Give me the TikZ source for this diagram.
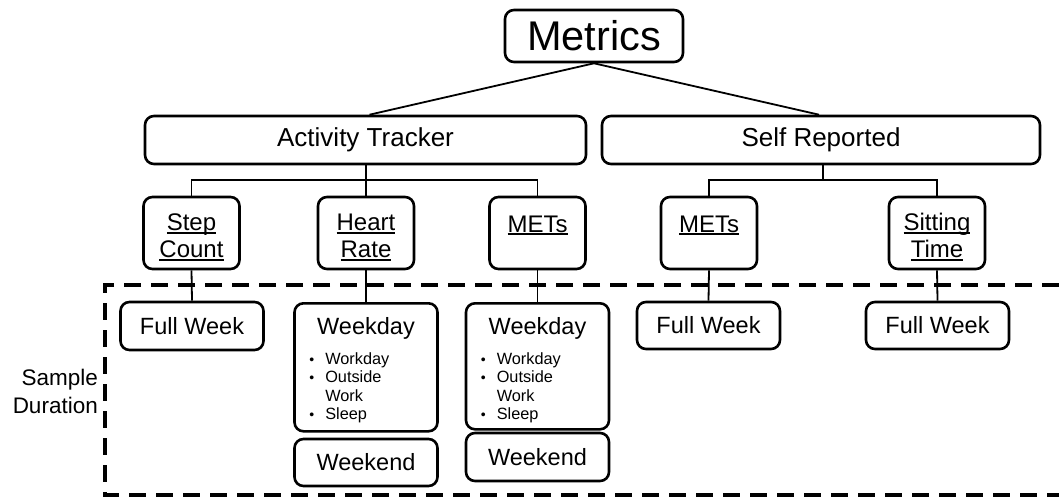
\documentclass[tikz,border=0pt]{standalone}
\usepackage{fontspec}
\setmainfont{Liberation Sans}
\newcommand{\fs}[2]{\fontsize{#1}{#2}\selectfont}
% underline at a fixed depth below the baseline
\newcommand{\uln}[1]{\begingroup\setbox0\hbox{#1}\rlap{\rule[-2.6pt]{\wd0}{1.4pt}}\box0\endgroup}
% strut that lowers the first line of a metric label
\newcommand{\firststrut}{\rule{0pt}{25.5pt}}
\begin{document}
\begin{tikzpicture}[x=1pt,y=-1pt,
  box/.style={draw, line width=2.6pt, rounded corners=9pt, inner sep=0pt, align=center},
  topbox/.style={box, font=\fs{41.5}{45}},
  groupbox/.style={box, font=\fs{26}{29}},
  metricbox/.style={box, minimum width=96pt, minimum height=72pt, font=\fs{24}{27}},
  durbox/.style={box, minimum width=143pt, font=\fs{23.5}{27}},
  boxtitle/.style={inner sep=0pt, font=\fs{23.5}{27}},
  itemlist/.style={inner sep=0pt, anchor=north west, align=left, font=\fs{16.3}{18.5}},
  link/.style={line width=1.8pt},
  frame/.style={line width=4pt, dash pattern=on 17pt off 10pt}]
\useasboundingbox (0,0) rectangle (1059,498);

% hierarchy
\node[topbox, minimum width=178pt, minimum height=52pt] (metrics) at (594,36) {Metrics};
\node[groupbox, minimum width=441pt, minimum height=48pt] (at) at (365.5,140) {Activity Tracker};
\node[groupbox, minimum width=438pt, minimum height=48pt] (sr) at (821,140) {Self Reported};

\node[metricbox] (step) at (191.5,233) {\firststrut\uln{Step}\\\uln{Count}};
\node[metricbox] (hr) at (366,233) {\firststrut\uln{Heart}\\\uln{Rate}};
\node[metricbox] (metsa) at (537.5,233) {\firststrut\uln{METs}\\\mbox{}};
\node[metricbox] (metsb) at (709,233) {\firststrut\uln{METs}\\\mbox{}};
\node[metricbox] (sit) at (937,233) {\firststrut\uln{Sitting}\\\uln{Time}};

% sample durations
\node[durbox, minimum height=48pt] (fwa) at (192,326) {Full Week};
\node[durbox, minimum height=47pt] (fwb) at (708.5,325.5) {Full Week};
\node[durbox, minimum height=47pt] (fwc) at (937.5,325.5) {Full Week};

\node[durbox, minimum height=128pt, anchor=north] (hrwd) at (366,302) {};
\node[boxtitle] (hrwdt) at ([yshift=-26pt]hrwd.north) {Weekday};
\node[itemlist] (hrwdl) at ([xshift=16pt,yshift=-49pt]hrwd.north west)
  {\begin{tabular}{@{}c@{\hspace{11pt}}l@{}}
   {\fs{14}{18.5}\textbullet} & Workday\\
   {\fs{14}{18.5}\textbullet} & Outside\\
   & Work\\
   {\fs{14}{18.5}\textbullet} & Sleep
   \end{tabular}};
\node[durbox, minimum height=47pt] (hrwe) at (366,462.5) {Weekend};

\node[durbox, minimum height=126pt, anchor=north] (mwd) at (537.5,302) {};
\node[boxtitle] (mwdt) at ([yshift=-26pt]mwd.north) {Weekday};
\node[itemlist] (mwdl) at ([xshift=16pt,yshift=-49pt]mwd.north west)
  {\begin{tabular}{@{}c@{\hspace{11pt}}l@{}}
   {\fs{14}{18.5}\textbullet} & Workday\\
   {\fs{14}{18.5}\textbullet} & Outside\\
   & Work\\
   {\fs{14}{18.5}\textbullet} & Sleep
   \end{tabular}};
\node[durbox, minimum height=48pt] (mwe) at (537.5,457) {Weekend};

% connectors
\coordinate (atbar) at (366,180);
\coordinate (srbar) at (823,180);
\draw[link] (metrics.south) -- ([xshift=4pt]at.north);
\draw[link] (metrics.south) -- ([xshift=-2pt]sr.north);
\draw[link] ([xshift=0.5pt]at.south) -- (hr.north);
\draw[link] (step.north) |- (atbar) -| (metsa.north);
\draw[link] ([xshift=2pt]sr.south) -- (srbar);
\draw[link] (metsb.north) |- (srbar) -| (sit.north);

\draw[link] (step.south) -- (fwa.north);
\draw[link] (hr.south) -- (hrwd.north);
\draw[link] (metsa.south) -- (mwd.north);
\draw[link] (metsb.south) -- (fwb.north);
\draw[link] (sit.south) -- (fwc.north);

% sample duration frame, open on the right
\coordinate (ftr) at (1059,285);
\coordinate (ftl) at (105,285);
\coordinate (fbl) at (105,495);
\coordinate (fbr) at (1059,495);
\draw[frame] (ftr) -- (ftl) -- (fbl) -- (fbr);
\node[inner sep=0pt, anchor=east, align=right, font=\fs{22.5}{28}] (dur) at (98,391) {Sample\\Duration};
\end{tikzpicture}
\end{document}
